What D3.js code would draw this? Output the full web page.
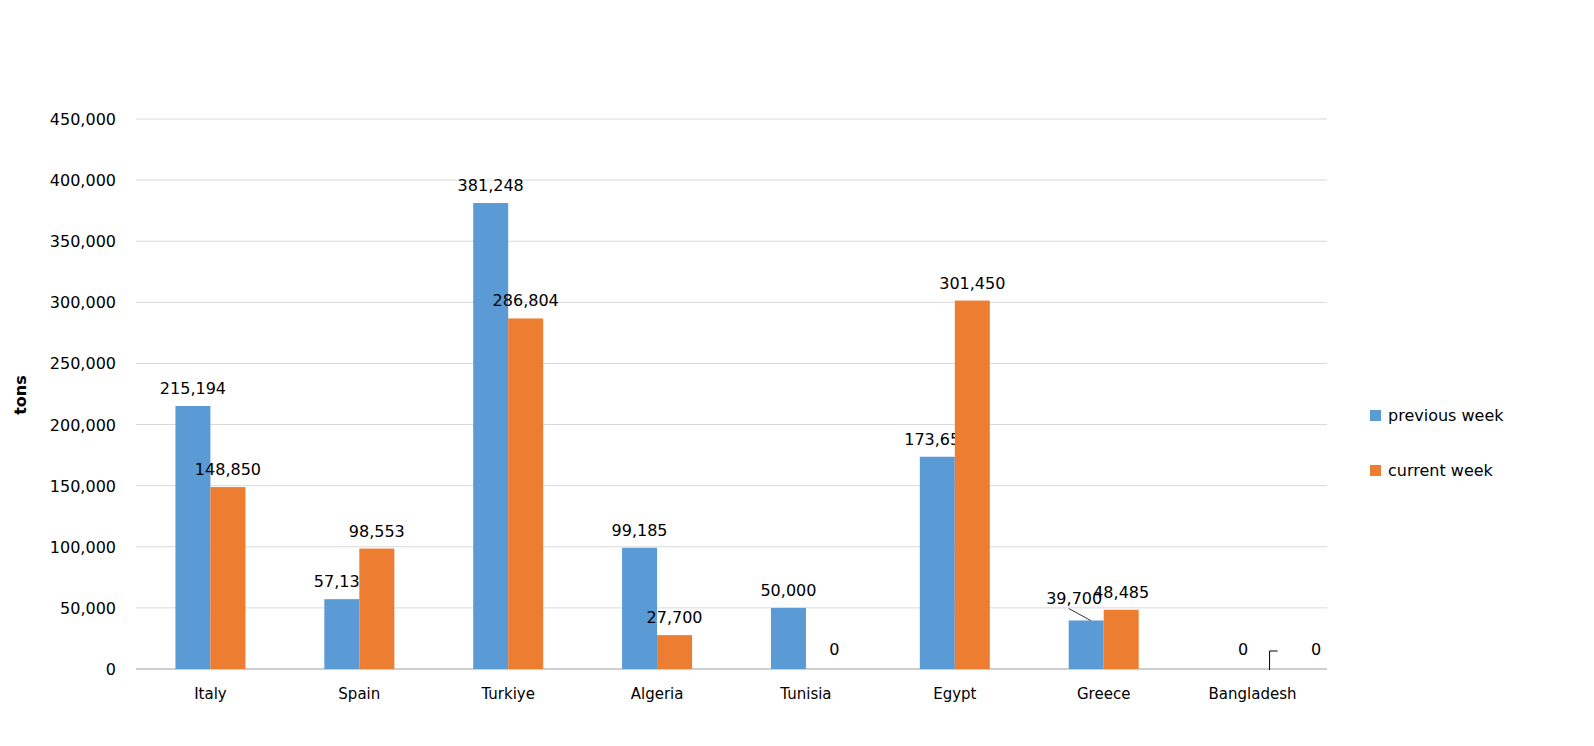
<!DOCTYPE html>
<html><head><meta charset="utf-8">
<script src="https://cdn.jsdelivr.net/npm/d3@7"></script>
<style>body{margin:0;background:#fff}svg{display:block}text{font-family:"DejaVu Sans",Verdana,sans-serif}</style>
</head><body><svg id="c" width="1594" height="746"></svg>
<script>
var categories = ['Italy','Spain','Turkiye','Algeria','Tunisia','Egypt','Greece','Bangladesh'];
var previousWeek = [215194, 57139, 381248, 99185, 50000, 173650, 39700, 0];
var currentWeek = [148850, 98553, 286804, 27700, 0, 301450, 48485, 0];
var seriesNames = ['previous week','current week'];
var yTicks = [0,50000,100000,150000,200000,250000,300000,350000,400000,450000];

(function() {
var colors = ['#5b9bd5','#ed7d31'];
var svg = d3.select('#c');
var plotLeft = 136, plotRight = 1327, plotTop = 119, plotBottom = 669;
var fmt = d3.format(',');

var x = d3.scaleBand().domain(categories).range([plotLeft, plotRight]);
var y = d3.scaleLinear().domain([0, 450000]).range([plotBottom, plotTop]);
var bw = 35;

svg.append('g').selectAll('line').data(yTicks).enter().append('line')
    .attr('x1', plotLeft).attr('x2', plotRight)
    .attr('y1', function(d) { return y(d); }).attr('y2', function(d) { return y(d); })
    .attr('stroke', function(d) { return d === 0 ? '#bfbfbf' : '#d9d9d9'; })
    .attr('stroke-width', function(d) { return d === 0 ? 1.5 : 1; });

svg.append('g').selectAll('text').data(yTicks).enter().append('text')
    .attr('x', 116).attr('y', function(d) { return y(d) + 6; })
    .attr('text-anchor', 'end').attr('font-size', 16).text(fmt);

svg.append('text').attr('transform', 'translate(26,395) rotate(-90)')
    .attr('text-anchor', 'middle').attr('font-size', 16).attr('font-weight', 'bold').text('tons');

svg.append('g').selectAll('text').data(categories).enter().append('text')
    .attr('x', function(d) { return x(d) + x.bandwidth() / 2; }).attr('y', 699)
    .attr('text-anchor', 'middle').attr('font-size', 15).text(function(d) { return d; });

[previousWeek, currentWeek].forEach(function(vals, s) {
    var g = svg.append('g');
    g.selectAll('rect').data(vals).enter().append('rect')
        .attr('x', function(d, i) { return x(categories[i]) + x.bandwidth() / 2 - bw + s * bw; })
        .attr('width', bw)
        .attr('y', function(d) { return y(d); })
        .attr('height', function(d) { return plotBottom - y(d); })
        .attr('fill', colors[s]);
    g.selectAll('text').data(vals).enter().append('text')
        .attr('x', function(d, i) {
            var cx = x(categories[i]) + x.bandwidth() / 2 - bw / 2 + s * bw;
            if (categories[i] === 'Greece' && s === 0) cx -= 12;
            if (categories[i] === 'Bangladesh') cx += s === 0 ? 8 : 46;
            if (categories[i] === 'Tunisia' && s === 1) cx += 11;
            return cx;
        })
        .attr('y', function(d, i) {
            if (d === 0) return y(d) - 14;
            if (categories[i] === 'Greece' && s === 0) return y(d) - 16;
            return y(d) - 12;
        })
        .attr('text-anchor', 'middle').attr('font-size', 16).text(fmt);
});

// leader lines
var gx = x('Greece') + x.bandwidth() / 2;
svg.append('line').attr('x1', gx - 35).attr('y1', y(39700) - 12).attr('x2', gx - 13).attr('y2', y(39700))
    .attr('stroke', '#000').attr('stroke-width', 0.8);
var bx = x('Bangladesh') + x.bandwidth() / 2;
svg.append('path').attr('d', 'M' + (bx + 17) + ',' + (plotBottom + 1) + 'V' + (plotBottom - 18) + 'h8')
    .attr('fill', 'none').attr('stroke', '#000').attr('stroke-width', 1);

var lg = svg.append('g').selectAll('g').data(seriesNames).enter().append('g')
    .attr('transform', function(d, i) { return 'translate(1370,' + (410 + i * 55) + ')'; });
lg.append('rect').attr('width', 11).attr('height', 11).attr('fill', function(d, i) { return colors[i]; });
lg.append('text').attr('x', 18).attr('y', 11).attr('font-size', 16).text(function(d) { return d; });
})();
</script></body></html>
